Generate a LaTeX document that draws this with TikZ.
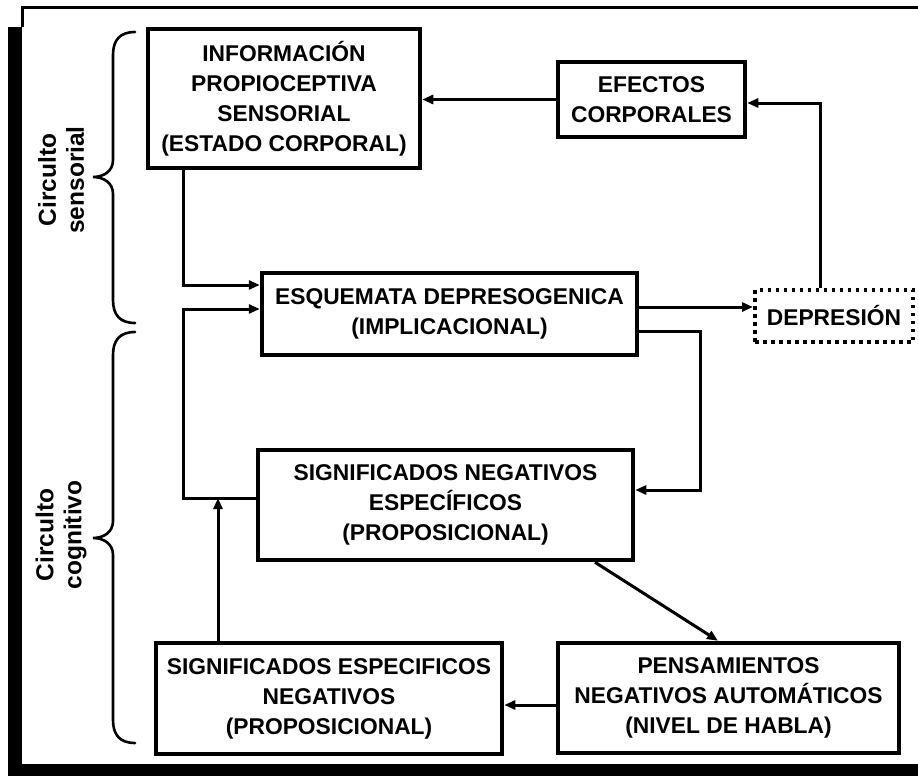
\documentclass[tikz,border=0pt]{standalone}
\usepackage{fontspec}
\setmainfont{Liberation Sans}
\usetikzlibrary{arrows.meta}
\begin{document}
\begin{tikzpicture}[x=1pt,y=-1pt,
  box/.style={draw,line width=4.5pt,align=center,inner sep=2pt,
    font=\bfseries\fontsize{22.8}{30}\selectfont},
  dotbox/.style={draw,line width=4pt,dash pattern=on 3.5pt off 4.5pt,align=center,
    font=\bfseries\fontsize{22.8}{30}\selectfont},
  arr/.style={line width=3pt,-{Triangle[length=11pt,width=9pt]}},
  bracestyle/.style={line width=2.6pt,line cap=round},
  sidelabel/.style={rotate=90,align=center,font=\bfseries\fontsize{24.5}{28}\selectfont}]
\useasboundingbox (0,0) rectangle (918,776);

% frame
\draw[line width=3pt] (22,27) -- (22,8) -- (918,8);
\fill (8,27) rectangle (22,776);
\fill (8,764) rectangle (918,776);

% boxes
\node[box,minimum width=272pt,minimum height=139pt] (info) at (284,98.5)
  {INFORMACIÓN\\PROPIOCEPTIVA\\SENSORIAL\\(ESTADO CORPORAL)};
\node[box,minimum width=187pt,minimum height=75pt] (efe) at (651.5,99.5)
  {EFECTOS\\CORPORALES};
\node[box,minimum width=375pt,minimum height=82pt] (esq) at (449.5,314)
  {ESQUEMATA DEPRESOGENICA\\(IMPLICACIONAL)};
\node[dotbox,minimum width=158pt,minimum height=52pt] (dep) at (834,316)
  {DEPRESIÓN};
\node[box,minimum width=375pt,minimum height=110pt] (sne) at (445.5,505)
  {SIGNIFICADOS NEGATIVOS\\ESPECÍFICOS\\(PROPOSICIONAL)};
\node[box,minimum width=346pt,minimum height=111pt] (sen) at (329,698.5)
  {SIGNIFICADOS ESPECIFICOS\\NEGATIVOS\\(PROPOSICIONAL)};
\node[box,minimum width=341pt,minimum height=110pt] (pen) at (728.5,698)
  {PENSAMIENTOS\\NEGATIVOS AUTOMÁTICOS\\(NIVEL DE HABLA)};

% side labels
\node[sidelabel] (lsens) at (61,180) {Circulto\\sensorial};
\node[sidelabel] (lcog) at (61,535) {Circulto\\cognitivo};

% braces
\draw[bracestyle] (135,32) .. controls (120,32) and (113,40) .. (113,55)
  -- (113,160) .. controls (113,171) and (104,177) .. (93,177)
  .. controls (104,177) and (113,183) .. (113,194)
  -- (113,300) .. controls (113,315) and (120,323) .. (135,323);
\draw[bracestyle] (135,332) .. controls (120,332) and (113,340) .. (113,355)
  -- (113,521) .. controls (113,532) and (104,538) .. (93,538)
  .. controls (104,538) and (113,544) .. (113,555)
  -- (113,720) .. controls (113,735) and (120,743) .. (135,743);

% routing points
\coordinate (j1) at (183,285);
\coordinate (j2) at (183,498);
\coordinate (j3) at (183,309);
\coordinate (j4) at (218,498);
\coordinate (k1) at (700,331);
\coordinate (k2) at (700,490);
\coordinate (d1) at (820,103);

% connectors
\draw[arr] (efe.west) -- (efe.west -| info.east);
\draw[arr] (dep.north -| d1) -- (d1) -- (d1 -| efe.east);
\draw[arr] ([yshift=7pt]esq.east) -- ([yshift=7pt]esq.east -| dep.west);
\draw[arr] (info.south -| j1) -- (j1) -- (j1 -| esq.west);
\draw[arr] (j2 -| sne.west) -- (j2) -- (j3) -- (j3 -| esq.west);
\draw[arr] (k1 -| esq.east) -- (k1) -- (k2) -- (k2 -| sne.east);
\draw[arr] ([xshift=149.5pt]sne.south) -- ([xshift=-10.5pt]pen.north);
\draw[arr] ([yshift=-7pt]pen.west) -- ([yshift=-7pt]pen.west -| sen.east);
\draw[arr] (sen.north -| j4) -- (j4);
\end{tikzpicture}
\end{document}
